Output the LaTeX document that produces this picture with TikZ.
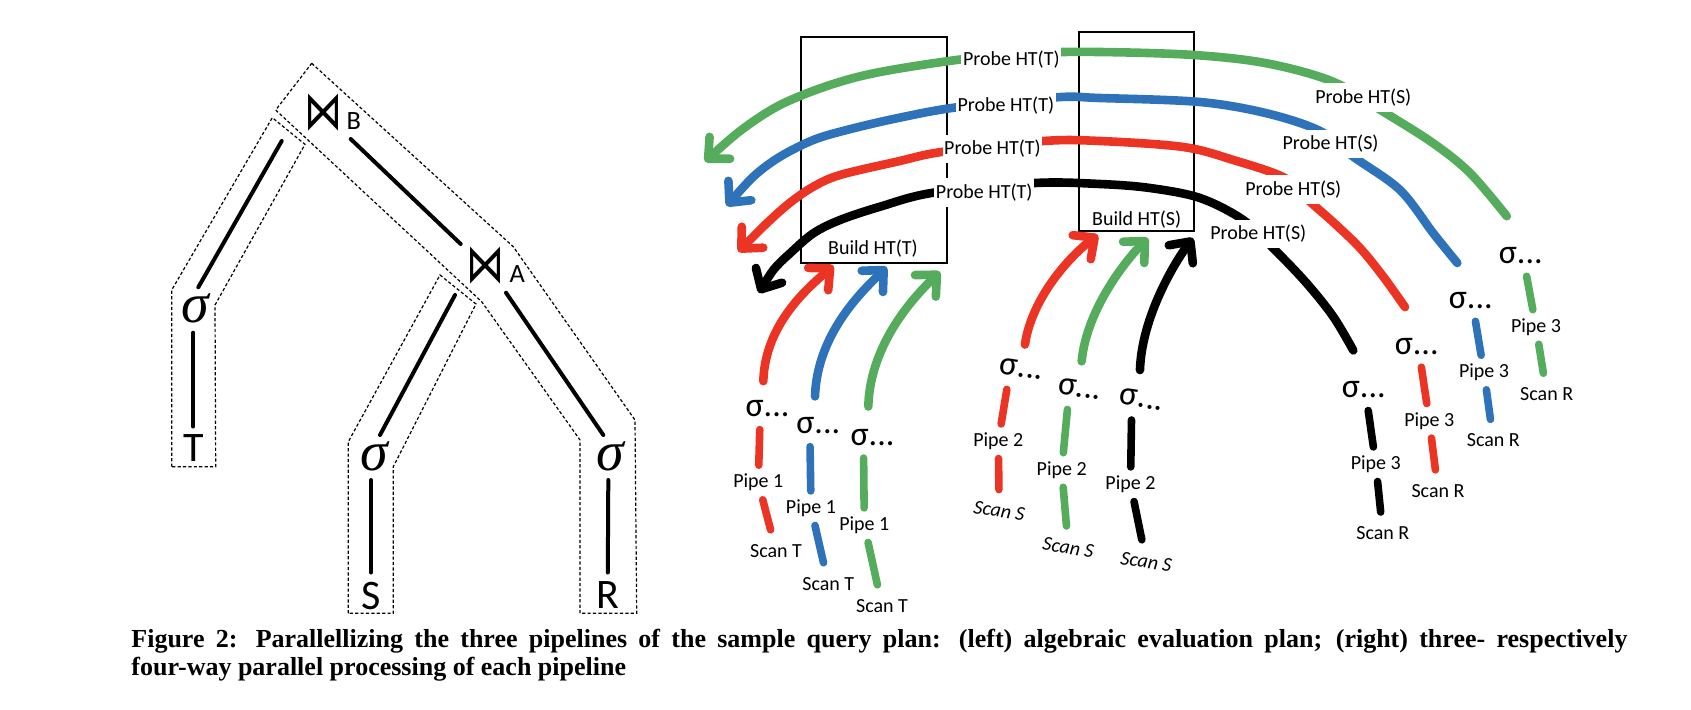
\documentclass[tikz,border=0pt]{standalone}
\usepackage{fontspec}
\setmainfont{Carlito}
\newfontfamily\symfont{DejaVu Sans}
\newfontfamily\capfont{Liberation Serif}
\usepackage{tikz}
\usetikzlibrary{arrows.meta,calc}
\definecolor{pred}{RGB}{236,52,36}
\definecolor{pgreen}{RGB}{84,172,92}
\definecolor{pblue}{RGB}{46,114,186}
\newcommand{\pipeleg}[5]{
    \draw[lowseg,#1,shorten <=5pt] ([xshift=#5]#2.south) -- (#3);
    \draw[lowseg,#1] (#3) -- (#4);
}
\newcommand{\joinsym}{\scalebox{0.95}[1.35]{⋈}}
\tikzset{
  lbl/.style={font=\fontsize{10}{12}\selectfont, inner sep=1pt},
  probelbl/.style={lbl, fill=white, inner xsep=0.8pt, inner ysep=2.8pt},
  pipelbl/.style={lbl, outer sep=3.4pt},
  scanlbl/.style={lbl, outer sep=6.2pt},
  sigmalbl/.style={font=\fontsize{17}{17}\selectfont, inner sep=1pt},
  flow/.style={line width=4.3pt, line cap=round, line join=round, -{Straight Barb[round,length=8pt,width=15pt]}},
  lowseg/.style={line width=3.8pt, line cap=round},
  htbox/.style={draw, line width=1pt, inner sep=0pt},
  pipezone/.style={line width=0.6pt, dash pattern=on 1.6pt off 1.1pt},
  tline/.style={line width=2pt, line cap=round},
  joinlbl/.style={font=\symfont\fontsize{20}{20}\selectfont, inner sep=0pt},
  sublbl/.style={font=\fontsize{13.2}{13.2}\selectfont, inner sep=0pt},
  tsig/.style={font=\capfont\itshape\fontsize{28}{28}\selectfont, inner sep=0pt},
  rellbl/.style={font=\fontsize{21}{21}\selectfont, inner sep=0pt},
  capline/.style={font=\capfont\bfseries\fontsize{13}{14}\selectfont, inner sep=0pt, anchor=base west},
}

\begin{document}
\begin{tikzpicture}[x=0.5pt,y=-0.5pt]
\useasboundingbox (0,0) rectangle (1691,709);
% algebraic plan
\draw[pipezone] (171.7,466.7) -- (171.7,290) -- (272.3,117.7) -- (305,144.3) -- (215,305) -- (215.7,466.7) -- cycle;
\draw[pipezone] (348.3,613.3) -- (348.3,441.7) -- (440,275) -- (476,304) -- (393.3,466.7) -- (393.3,613.3) -- cycle;
\draw[pipezone] (311.7,63.3) -- (513.3,246.7) -- (635,420) -- (636.7,613.3) -- (580,613.3) -- (580,440) -- (481.7,301.7) -- (275.7,110) -- cycle;
\node[joinlbl] (jB) at (323.3,112.7) {\joinsym};
\node[sublbl] (jBsub) at (353.7,120.7) {B};
\node[joinlbl] (jA) at (485.8,265.3) {\joinsym};
\node[sublbl] (jAsub) at (517.2,273.8) {A};
\node[tsig] (sT) at (195.8,308.3) {σ};
\node[tsig] (sS) at (374,456) {σ};
\node[tsig] (sR) at (610,456) {σ};
\node[rellbl] (rT) at (193.3,448.5) {T};
\node[rellbl] (rS) at (371,595.5) {S};
\node[rellbl] (rR) at (607.5,595.5) {R};
\draw[tline] ($(sT)+(2.5,-21)$) -- ($(jB)+(-41.6,28.3)$);
\draw[tline] ($(jB)+(27.4,26.3)$) -- ($(jA)+(-25.1,-21.3)$);
\draw[tline] ($(sT)+(-2.5,24.4)$) -- ($(rT)+(0,-22)$);
\draw[tline] ($(sS)+(6,-21)$) -- ($(jA)+(-30.8,29.7)$);
\draw[tline] ($(sS)+(-3,24)$) -- ($(rS)+(0,-23)$);
\draw[tline] ($(jA)+(20.2,27.4)$) -- ($(sR)+(-6.7,-21)$);
\draw[tline] ($(sR)+(-1.7,24)$) -- ($(rR)+(0.3,-23)$);

% parallel pipelines
\node[htbox, minimum width=73pt, minimum height=113.3pt] (bT) at (873.7,150) {};
\node[htbox, minimum width=57.5pt, minimum height=99.5pt] (bS) at (1136.8,131.2) {};
\node[lbl] (lbT) at (873,248.3) {Build HT(T)};
\node[lbl] (lbS) at (1136.7,219.2) {Build HT(S)};

\node[sigmalbl] (s1r) at (767.5,409) {σ...};
\node[sigmalbl] (s1b) at (818.3,426) {σ...};
\node[sigmalbl] (s1g) at (872.5,437.5) {σ...};
\node[sigmalbl, rotate=-9] (s2r) at (1021.7,369) {σ...};
\node[sigmalbl, rotate=-9] (s2g) at (1080,389) {σ...};
\node[sigmalbl, rotate=-9] (s2k) at (1141.7,399.5) {σ...};
\node[sigmalbl] (s3k) at (1363.8,390) {σ...};
\node[sigmalbl] (s3r) at (1416.7,346.7) {σ...};
\node[sigmalbl] (s3b) at (1470.8,300.8) {σ...};
\node[sigmalbl] (s3g) at (1520.8,255.8) {σ...};

\node[pipelbl] (p1r) at (758.3,482.5) {Pipe 1};
\node[pipelbl] (p1b) at (811,508.2) {Pipe 1};
\node[pipelbl] (p1g) at (864.3,525.2) {Pipe 1};
\node[pipelbl] (p2r) at (998.3,441.2) {Pipe 2};
\node[pipelbl] (p2g) at (1061.7,470) {Pipe 2};
\node[pipelbl] (p2k) at (1130.5,484.2) {Pipe 2};
\node[pipelbl] (p3k) at (1375.8,464.2) {Pipe 3};
\node[pipelbl] (p3r) at (1429.3,420.8) {Pipe 3};
\node[pipelbl] (p3b) at (1484,372.5) {Pipe 3};
\node[pipelbl] (p3g) at (1536,327) {Pipe 3};

\node[scanlbl] (c1r) at (776,550.8) {Scan T};
\node[scanlbl] (c1b) at (828.3,583.7) {Scan T};
\node[scanlbl] (c1g) at (882,605.8) {Scan T};
\node[scanlbl, font=\fontsize{10}{12}\selectfont\itshape, rotate=-9] (c2r) at (999.2,510.8) {Scan S};
\node[scanlbl, font=\fontsize{10}{12}\selectfont\itshape, rotate=-9] (c2g) at (1068.3,547.5) {Scan S};
\node[scanlbl, font=\fontsize{10}{12}\selectfont\itshape, rotate=-9] (c2k) at (1146.3,561.7) {Scan S};
\node[scanlbl] (c3k) at (1382.8,533) {Scan R};
\node[scanlbl] (c3r) at (1438,490.8) {Scan R};
\node[scanlbl] (c3b) at (1493.3,440.3) {Scan R};
\node[scanlbl] (c3g) at (1546.7,394.2) {Scan R};

\coordinate (t1r) at (833.3,265.5);
\coordinate (t1b) at (886.7,267);
\coordinate (t1g) at (940,271.7);
\coordinate (t2r) at (1098,235);
\coordinate (t2g) at (1148,238);
\coordinate (t2k) at (1193,238);
\coordinate (tg) at (705,161.7);
\coordinate (tb) at (726.7,206);
\coordinate (tr) at (738.3,251.7);
\coordinate (tk) at (759,293);

\pipeleg{pred}{s1r}{p1r}{c1r}{-3.75pt}
\pipeleg{pblue}{s1b}{p1b}{c1b}{-4.2pt}
\pipeleg{pgreen}{s1g}{p1g}{c1g}{-4.5pt}
\pipeleg{pred}{s2r}{p2r}{c2r}{-5.8pt}
\pipeleg{pgreen}{s2g}{p2g}{c2g}{-5pt}
\pipeleg{black}{s2k}{p2k}{c2k}{-4.2pt}
\pipeleg{black}{s3k}{p3k}{c3k}{1.5pt}
\pipeleg{pred}{s3r}{p3r}{c3r}{1.6pt}
\pipeleg{pblue}{s3b}{p3b}{c3b}{1.5pt}
\pipeleg{pgreen}{s3g}{p3g}{c3g}{2pt}

\draw[flow,pred] ([xshift=-2.1pt,yshift=8.6pt]s1r.north) .. controls +(1.7,-59) and +(-22.3,20) .. (t1r);
\draw[flow,pblue] ([xshift=-1.65pt,yshift=9.5pt]s1b.north) .. controls +(2,-65) and +(-20,20) .. (t1b);
\draw[flow,pgreen] ([xshift=-2.1pt,yshift=10.2pt]s1g.north) .. controls +(1.7,-65) and +(-22,21.3) .. (t1g);
\draw[flow,pred] ([xshift=0.8pt,yshift=7pt]s2r.north) .. controls +(6.7,-46.7) and +(-28,21) .. (t2r);
\draw[flow,pgreen] ([yshift=8.6pt]s2g.north) .. controls +(5,-53.3) and +(-20,20) .. (t2g);
\draw[flow] ([xshift=-1.7pt,yshift=9.5pt]s2k.north) .. controls +(1.7,-53.3) and +(-18,24) .. (t2k);

\draw[flow,pgreen] plot[smooth, tension=0.55] coordinates {([xshift=-7pt,yshift=14.5pt]s3g.north) (1470,173) (1433.3,143.3) (1383.3,111.7) (1333,81.7) (1266.7,63.3) (1194,55) (1100,52) (1030,53) (961.7,59.3) (880,72) (830,85) (780,105) (740,131) (tg)};
\draw[flow,pblue] plot[smooth, tension=0.55] coordinates {([xshift=-6.75pt,yshift=13.6pt]s3b.north) (1433.3,233.3) (1400,190) (1353.3,156.7) (1320,131) (1266.7,113.3) (1200,102) (1100,98) (1056,97.3) (956.7,107.3) (896.7,118.3) (846.7,130) (813.3,140) (780,156.7) (753.3,176.7) (tb)};
\draw[flow,pred] plot[smooth, tension=0.55] coordinates {([xshift=-5.85pt,yshift=14.5pt]s3r.north) (1383.3,276.7) (1360,248) (1333,222) (1310,201.7) (1285,178) (1233.3,160) (1183.3,147) (1100,141) (1043.3,141) (943.3,151.7) (896.7,161.7) (840,175) (813.3,186.7) (790,202.7) (766.7,223.3) (tr)};
\draw[flow] plot[smooth, tension=0.55] coordinates {([xshift=-5.25pt,yshift=14.5pt]s3k.north) (1333.3,316.7) (1306.7,283.3) (1275,250) (1243.3,220) (1200,198) (1150,188) (1100,184) (1035,183) (933.3,192.7) (880,206.7) (840,220) (813.3,233.3) (790,253.3) (773.3,270) (tk)};

\node[probelbl] (ptg) at (1011.3,60) {Probe HT(T)};
\node[probelbl] (ptb) at (1005.8,105.7) {Probe HT(T)};
\node[probelbl] (ptr) at (992.5,149) {Probe HT(T)};
\node[probelbl] (ptk) at (984.2,192.3) {Probe HT(T)};
\node[probelbl] (psg) at (1363.3,97.5) {Probe HT(S)};
\node[probelbl] (psb) at (1330.5,143.8) {Probe HT(S)};
\node[probelbl] (psr) at (1293.3,189.5) {Probe HT(S)};
\node[probelbl] (psk) at (1258.3,233.8) {Probe HT(S)};

\node[capline] (cap1) at (131,647) {\makebox[748pt][s]{Figure 2: Parallellizing the three pipelines of the sample query plan: (left) algebraic evaluation plan; (right) three- respectively}};
\node[capline] (cap2) at (131,675) {four-way parallel processing of each pipeline};
\end{tikzpicture}
\end{document}
